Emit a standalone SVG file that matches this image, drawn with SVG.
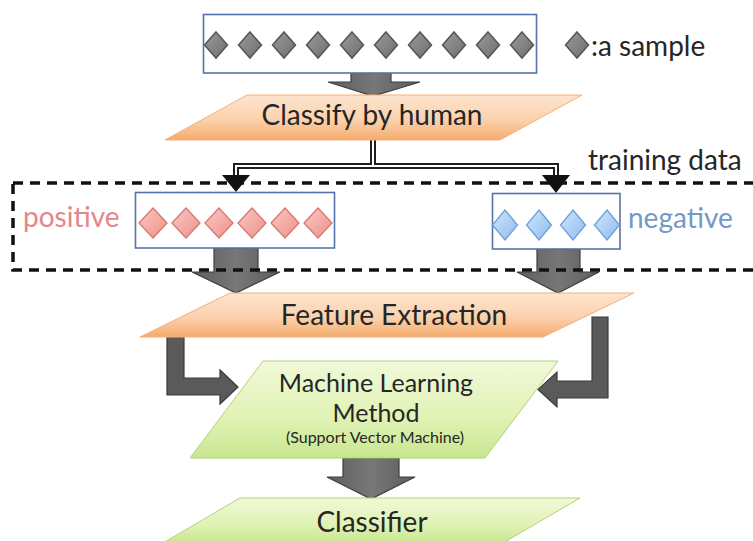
<svg xmlns="http://www.w3.org/2000/svg" width="753" height="541" viewBox="0 0 753 541">
  <defs>
    <linearGradient id="orangeFill" x1="0" y1="0" x2="0" y2="1">
      <stop offset="0" stop-color="#fde4cf"/>
      <stop offset="0.55" stop-color="#fbd2ad"/>
      <stop offset="1" stop-color="#f5ab6c"/>
    </linearGradient>
    <linearGradient id="greenFill" x1="0" y1="0" x2="0" y2="1">
      <stop offset="0" stop-color="#f0f9d9"/>
      <stop offset="0.6" stop-color="#e0f2b4"/>
      <stop offset="1" stop-color="#c8e690"/>
    </linearGradient>
    <linearGradient id="grayDiamond" x1="0" y1="0" x2="1" y2="1">
      <stop offset="0" stop-color="#9a9a9a"/>
      <stop offset="1" stop-color="#6e6e6e"/>
    </linearGradient>
    <linearGradient id="pinkDiamond" x1="0" y1="0" x2="1" y2="1">
      <stop offset="0" stop-color="#fbc9c4"/>
      <stop offset="1" stop-color="#ec908b"/>
    </linearGradient>
    <linearGradient id="blueDiamond" x1="0" y1="0" x2="1" y2="1">
      <stop offset="0" stop-color="#d3e6fb"/>
      <stop offset="1" stop-color="#8dbbed"/>
    </linearGradient>
    <linearGradient id="blockGray" x1="0" y1="0" x2="1" y2="0">
      <stop offset="0" stop-color="#5e5e5e"/>
      <stop offset="0.5" stop-color="#777777"/>
      <stop offset="1" stop-color="#5e5e5e"/>
    </linearGradient>
    <path id="dGray" d="M0,-13 L11.5,0 L0,13 L-11.5,0 Z" fill="url(#grayDiamond)" stroke="#555555" stroke-width="1.5"/>
    <path id="dPink" d="M0,-15 L14,0 L0,15 L-14,0 Z" fill="url(#pinkDiamond)" stroke="#d8766f" stroke-width="1.3"/>
    <path id="dBlue" d="M0,-15 L12.5,0 L0,15 L-12.5,0 Z" fill="url(#blueDiamond)" stroke="#6c9fda" stroke-width="1.3"/>
  </defs>
  <style>
    text { font-family: Lato, "Open Sans", "Liberation Sans", sans-serif; fill: #262626; }
    .lbl { font-size: 28px; text-anchor: middle; }
    .side { font-size: 28px; }
    .small { font-size: 16px; text-anchor: middle; }
    .pos { fill: #e5868b; }
    .neg { fill: #7598c6; }
    .box { fill: #ffffff; stroke: #5573a8; stroke-width: 1.6; }
    .orange { fill: url(#orangeFill); stroke: #f2b07c; stroke-width: 1; }
    .green { fill: url(#greenFill); stroke: #b4d27a; stroke-width: 1; }
    .block { fill: url(#blockGray); stroke: #3e3e3e; stroke-width: 1.2; stroke-linejoin: miter; }
    .lshape { fill: #5a5a5a; stroke: #3a3a3a; stroke-width: 1.2; }
    .dbl-out { fill: none; stroke: #1e1e1e; stroke-width: 6; }
    .dbl-in { fill: none; stroke: #ffffff; stroke-width: 2; }
    .head { fill: #111111; }
    .region { fill: none; stroke: #111111; stroke-width: 3.5; stroke-dasharray: 10 7; }
  </style>

  <rect width="753" height="541" fill="#ffffff"/>

  <!-- block arrows between stages -->
  <g id="connectors">
    <path class="block" d="M351,72 H391 V82 H420 L373,96 L328,82 H351 Z"/>
    <path class="block" d="M214,248 H258 V272 H280 L236,293 L192,272 H214 Z"/>
    <path class="block" d="M537,249 H580 V272 H599 L558,293 L517,272 H537 Z"/>
    <path class="lshape" d="M167,335 H184 V378 H220 V370 L238,387 L220,404 V395 H167 Z"/>
    <path class="lshape" d="M592,317 H608 V398 H557 V407 L538,389.5 L557,372 V381 H592 Z"/>
    <path class="block" d="M343,458 H399 V477 H415 L371,499 L327,477 H343 Z"/>
    <!-- split of the labelled samples -->
    <path class="dbl-out" d="M236,177 V166 H556 V177 M373,139 V166"/>
    <path class="dbl-in" d="M236,178 V166 H556 V178 M373,138 V166"/>
    <polygon class="head" points="222,175 250,175 236,192"/>
    <polygon class="head" points="542,175 570,175 556,193"/>
  </g>

  <!-- unlabelled samples -->
  <g id="samples">
    <rect class="box" x="203.5" y="14.5" width="333" height="58.5"/>
    <use href="#dGray" x="216" y="45"/>
    <use href="#dGray" x="250" y="45"/>
    <use href="#dGray" x="284" y="45"/>
    <use href="#dGray" x="318" y="45"/>
    <use href="#dGray" x="352" y="45"/>
    <use href="#dGray" x="386" y="45"/>
    <use href="#dGray" x="420" y="45"/>
    <use href="#dGray" x="454" y="45"/>
    <use href="#dGray" x="488" y="45"/>
    <use href="#dGray" x="522" y="45"/>
  </g>

  <g id="legend">
    <use href="#dGray" x="577" y="45"/>
    <text class="side" x="591" y="56">:a sample</text>
  </g>

  <g id="classify">
    <polygon class="orange" points="247,95 582,95 500,140 165,140"/>
    <text class="lbl" x="372" y="125">Classify by human</text>
  </g>

  <g id="training-data">
    <rect class="region" x="13" y="183" width="760" height="87"/>
    <text class="side" x="588" y="170">training data</text>
  </g>

  <g id="positive">
    <rect class="box" x="135.5" y="192.5" width="199" height="55.5"/>
    <use href="#dPink" x="153" y="223"/>
    <use href="#dPink" x="186" y="223"/>
    <use href="#dPink" x="219" y="223"/>
    <use href="#dPink" x="252" y="223"/>
    <use href="#dPink" x="285" y="223"/>
    <use href="#dPink" x="318" y="223"/>
    <text class="side pos" x="23" y="227">positive</text>
  </g>

  <g id="negative">
    <rect class="box" x="492.5" y="193.5" width="127.5" height="55.5"/>
    <use href="#dBlue" x="505" y="225"/>
    <use href="#dBlue" x="539" y="225"/>
    <use href="#dBlue" x="573" y="225"/>
    <use href="#dBlue" x="607" y="225"/>
    <text class="side neg" x="628" y="228">negative</text>
  </g>

  <g id="feature-extraction">
    <polygon class="orange" points="230,293 634,293 543,337 140,337"/>
    <text class="lbl" x="394" y="325">Feature Extraction</text>
  </g>

  <g id="machine-learning">
    <polygon class="green" points="263,361 558,361 485,458 190,458"/>
    <text class="lbl" x="376" y="392" style="font-size:25px">Machine Learning</text>
    <text class="lbl" x="376" y="422" style="font-size:25px">Method</text>
    <text class="small" x="375" y="443">(Support Vector Machine)</text>
  </g>

  <g id="classifier">
    <polygon class="green" points="240,498 580,498 503,543 163,543"/>
    <text class="lbl" x="372" y="532">Classifier</text>
  </g>
</svg>
